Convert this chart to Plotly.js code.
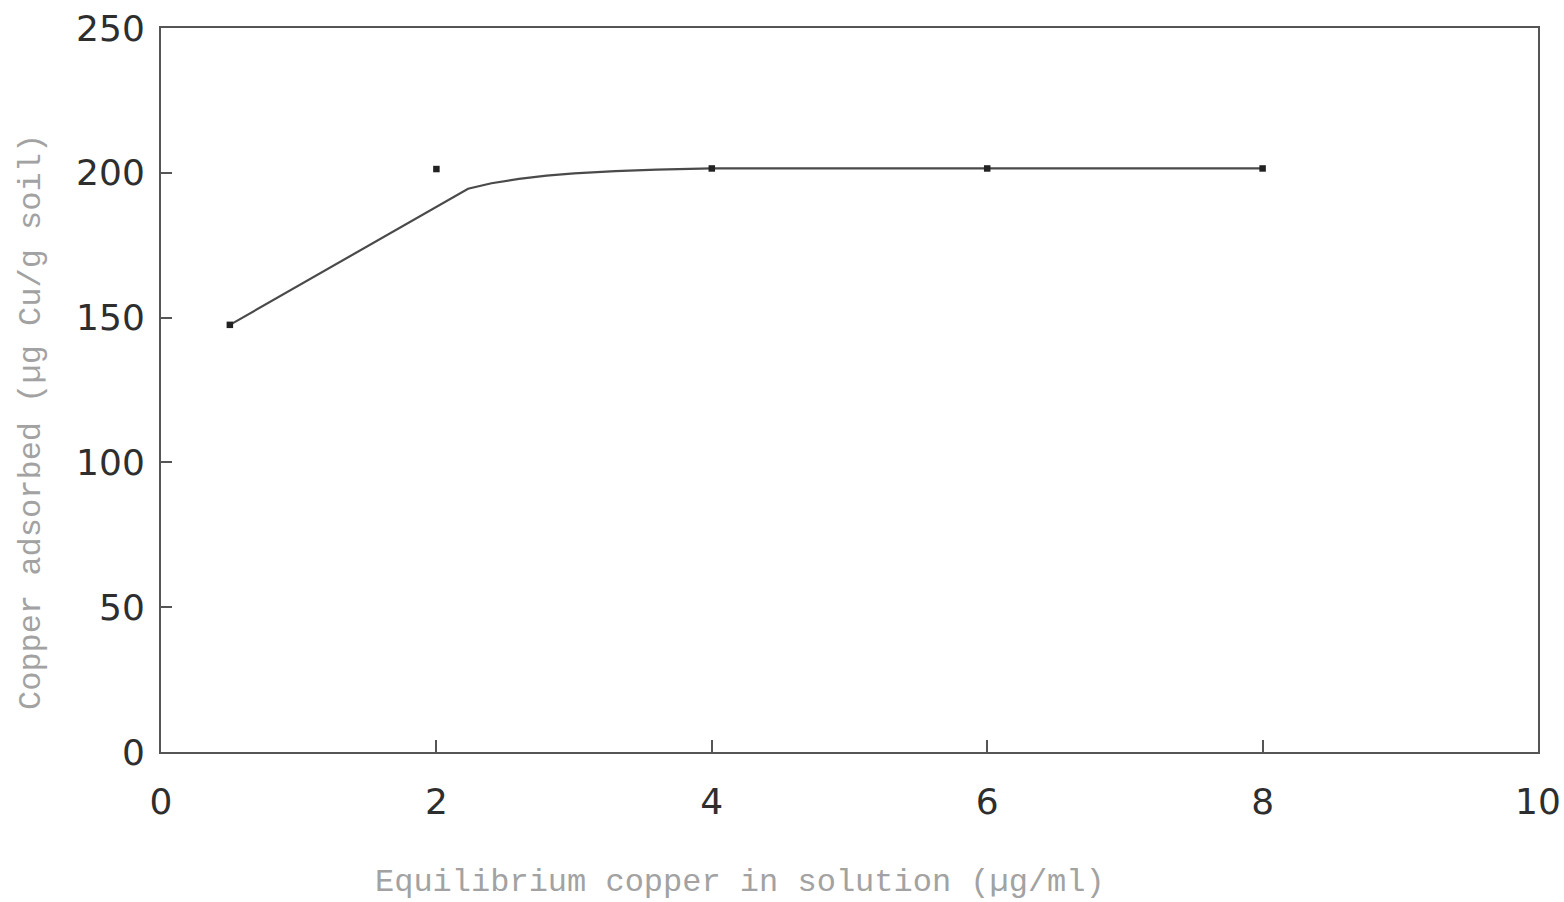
<!DOCTYPE html>
<html>
<head>
<meta charset="utf-8">
<script src="https://cdn.plot.ly/plotly-3.0.1.min.js"></script>
<style>
  html, body { margin: 0; padding: 0; background: #fff; }
  #chart { width: 1564px; height: 902px; }
</style>
</head>
<body>
<div id="chart"></div>
<script>
// Measured adsorption points
const eqCopper = [0.5, 2, 4, 6, 8];
const adsorbed = [147.5, 201.3, 201.5, 201.5, 201.5];

// Fitted isotherm curve
const fitX = [0.5, 1.0, 1.5, 2.0, 2.23, 2.4, 2.6, 2.8, 3.0, 3.3, 3.6, 4.0, 6.0, 8.0];
const fitY = [147.5, 161.0, 174.5, 188.0, 194.5, 196.4, 197.9, 199.0, 199.8, 200.6, 201.1, 201.5, 201.5, 201.5];

// Axis ticks
const xTicks = [0, 2, 4, 6, 8, 10];
const yTicks = [0, 50, 100, 150, 200, 250];

const xTitle = 'Equilibrium copper in solution (µg/ml)';
const yTitle = 'Copper adsorbed (µg Cu/g soil)';

const traces = [
  {
    x: fitX, y: fitY, type: 'scatter', mode: 'lines',
    line: { color: '#4a4a4a', width: 2.2 },
    hoverinfo: 'skip'
  },
  {
    x: eqCopper, y: adsorbed, type: 'scatter', mode: 'markers',
    marker: { symbol: 'square', size: 6.5, color: '#222' }
  }
];

const tickFont = { family: 'DejaVu Sans, Verdana, sans-serif', size: 36, color: '#2e2e2e' };
const titleFont = { family: 'Liberation Mono, Courier New, monospace', size: 32, color: '#a2a2a2' };

const layout = {
  width: 1564, height: 902,
  margin: { l: 161, r: 26, t: 28, b: 150 },
  paper_bgcolor: '#fff', plot_bgcolor: '#fff',
  showlegend: false,
  xaxis: {
    range: [0, 10], tickvals: xTicks, ticktext: xTicks.map(String),
    ticks: 'inside', ticklen: 12, tickwidth: 2, tickcolor: '#555',
    showline: true, linecolor: '#555', linewidth: 2, mirror: true,
    showgrid: false, zeroline: false,
    tickfont: tickFont, ticklabelstandoff: 17
  },
  yaxis: {
    range: [0, 250], tickvals: yTicks, ticktext: yTicks.map(String),
    ticks: 'inside', ticklen: 11, tickwidth: 2, tickcolor: '#555',
    showline: true, linecolor: '#555', linewidth: 2, mirror: true,
    showgrid: false, zeroline: false,
    tickfont: tickFont, ticklabelstandoff: 7
  },
  annotations: [
    {
      text: xTitle, xref: 'paper', yref: 'paper',
      x: (740 - 161) / (1538 - 161), y: -(882 - 752) / (752 - 28),
      xanchor: 'center', yanchor: 'middle', showarrow: false, font: titleFont
    },
    {
      text: yTitle, xref: 'paper', yref: 'paper', textangle: -90,
      x: -(161 - 31) / (1538 - 161), y: (752 - 422) / (752 - 28),
      xanchor: 'center', yanchor: 'middle', showarrow: false, font: titleFont
    }
  ]
};

Plotly.newPlot('chart', traces, layout, { displayModeBar: false, staticPlot: true });
</script>
</body>
</html>
